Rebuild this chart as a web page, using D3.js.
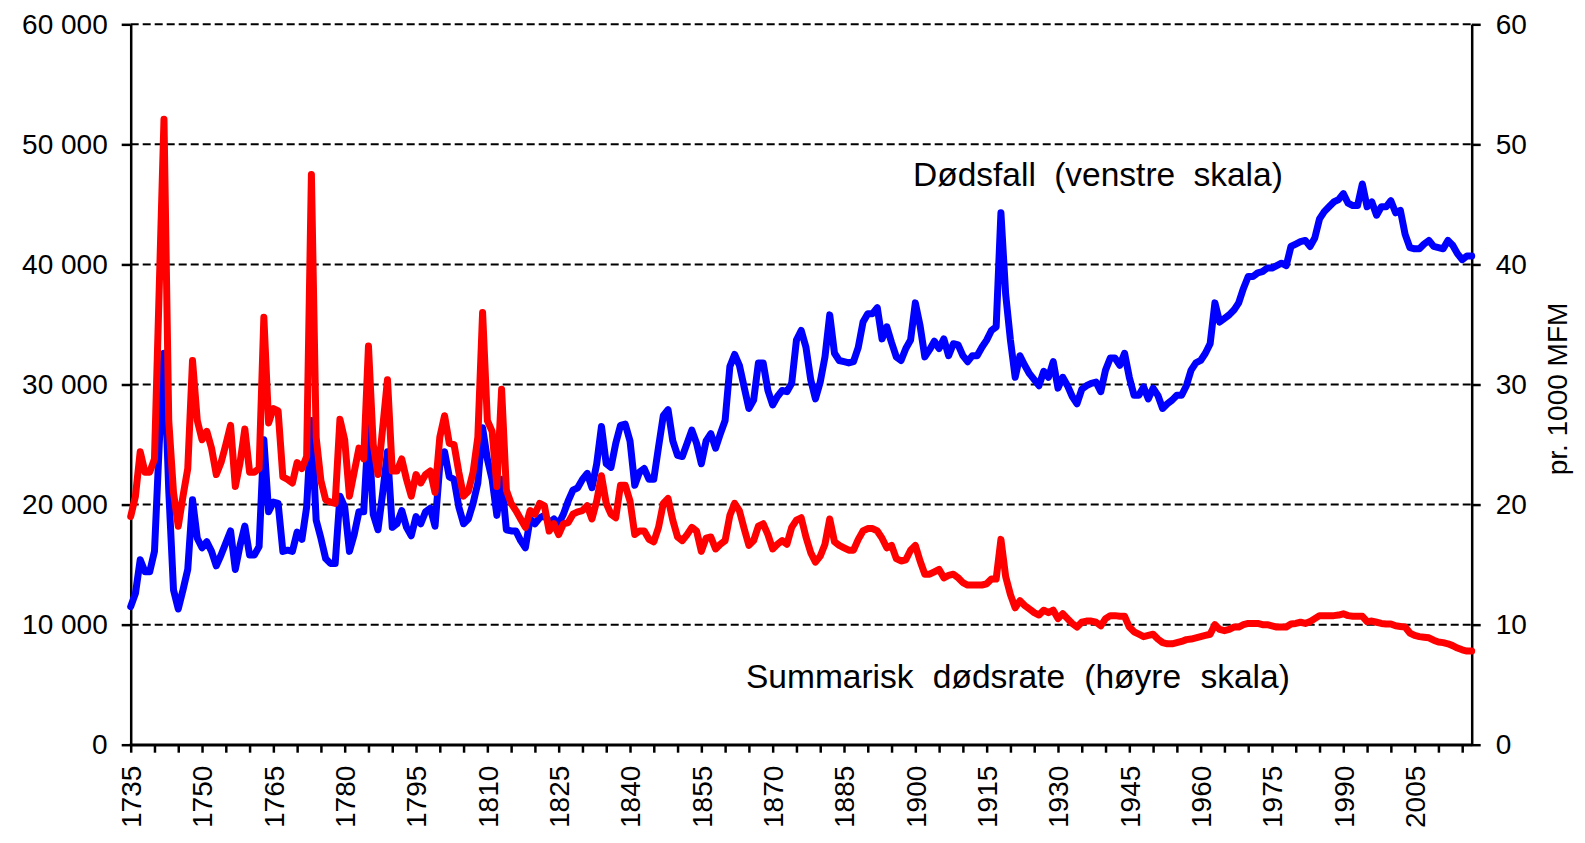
<!DOCTYPE html>
<html>
<head>
<meta charset="utf-8">
<script src="https://cdn.jsdelivr.net/npm/d3@7"></script>
<style>
    html, body { margin: 0; padding: 0; background: #fff; }
    svg { display: block; font-family: "Liberation Sans", Arial, sans-serif; }
</style>
</head>
<body>
<svg id="chart" width="1585" height="843"></svg>
<script>
const FIRST_YEAR = 1735;
const LAST_YEAR = 2017;

// Dødsfall (venstre skala), one value per year from 1735
const deaths = [
    11500, 12600, 15400, 14400, 14400, 16100, 25000, 32600, 21200, 12900,
    11300, 12900, 14600, 20400, 17200, 16400, 16900, 16100, 14900, 15800,
    16800, 17800, 14600, 16600, 18200, 15800, 15800, 16500, 25400, 19400,
    20200, 20100, 16100, 16200, 16100, 17700, 17100, 19800, 27000, 18700,
    17200, 15500, 15100, 15100, 20700, 19800, 16100, 17500, 19400, 19400,
    26500, 19200, 17900, 21000, 24400, 18100, 18400, 19500, 18100, 17400,
    19000, 18400, 19400, 19700, 18200, 23300, 24400, 22300, 22100, 19800,
    18400, 18800, 20100, 21800, 26400, 23800, 22100, 19100, 22100, 17900,
    17800, 17800, 17000, 16400, 18800, 18400, 18900, 19100, 18500, 18800,
    18400, 19200, 20300, 21200, 21400, 22100, 22600, 21400, 23400, 26500,
    23400, 23100, 25100, 26600, 26700, 25300, 21600, 22700, 23000, 22100,
    22100, 24800, 27400, 27900, 25300, 24100, 24000, 25100, 26200, 25100,
    23400, 25300, 25900, 24700, 25900, 27000, 31500, 32500, 31600, 29800,
    28000, 28700, 31800, 31800, 29500, 28300, 29000, 29500, 29400, 30100,
    33700, 34500, 33100, 30400, 28800, 30200, 32300, 35800, 32600, 32000,
    31900, 31800, 31900, 33100, 35200, 35900, 35900, 36400, 33800, 34800,
    33500, 32300, 32000, 33000, 33700, 36800, 34900, 32300, 32900, 33600,
    33000, 33800, 32400, 33400, 33300, 32400, 31900, 32400, 32400, 33100,
    33700, 34500, 34800, 44300, 37500, 33700, 30600, 32400, 31600, 30900,
    30400, 29900, 31100, 30600, 31900, 29700, 30600, 29900, 29000, 28400,
    29600, 29900, 30100, 30200, 29400, 31200, 32200, 32200, 31600, 32600,
    30600, 29100, 29100, 29800, 28800, 29700, 29100, 28000, 28400, 28700,
    29100, 29100, 29900, 31200, 31800, 32000, 32600, 33400, 36800, 35200,
    35500, 35800, 36200, 36800, 38000, 39000, 39000, 39300, 39400, 39700,
    39700, 39900, 40100, 39900, 41500, 41700, 41900, 42000, 41500, 42200,
    43800, 44400, 44800, 45200, 45400, 45900, 45100, 44900, 44900, 46700,
    44800, 45200, 44100, 44800, 44800, 45300, 44300, 44500, 42500, 41400,
    41300, 41300, 41700, 42000, 41500, 41400, 41300, 42000, 41600, 40900,
    40400, 40700, 40700
];

// Summarisk dødsrate (høyre skala), pr. 1000 middelfolkemengde
const deathRate = [
    19.0, 20.7, 24.4, 22.7, 22.7, 23.8, 38.0, 52.1, 27.0, 21.0,
    18.2, 20.7, 23.0, 32.0, 27.0, 25.4, 26.1, 24.7, 22.5, 23.5,
    25.0, 26.6, 21.5, 23.5, 26.3, 22.7, 22.7, 23.0, 35.6, 26.8,
    28.0, 27.8, 22.3, 22.1, 21.8, 23.5, 23.0, 24.0, 47.5, 25.6,
    22.0, 20.4, 20.2, 20.1, 27.1, 25.4, 20.7, 22.7, 24.7, 23.8,
    33.2, 25.0, 22.5, 26.4, 30.4, 22.8, 22.8, 23.8, 22.1, 20.7,
    22.5, 21.8, 22.5, 22.8, 21.0, 25.6, 27.4, 25.1, 25.0, 22.7,
    20.7, 21.1, 22.7, 25.6, 36.0, 27.0, 26.1, 21.5, 29.6, 21.2,
    20.1, 19.5, 18.8, 18.1, 19.5, 19.2, 20.1, 19.9, 17.8, 18.4,
    17.5, 18.4, 18.5, 19.2, 19.4, 19.5, 19.9, 18.8, 20.3, 22.4,
    20.1, 19.2, 18.9, 21.6, 21.6, 20.3, 17.5, 17.8, 17.8, 17.1,
    16.9, 18.1, 20.1, 20.5, 18.7, 17.3, 17.0, 17.5, 18.1, 17.8,
    16.1, 17.2, 17.3, 16.3, 16.7, 17.0, 19.1, 20.1, 19.5, 18.0,
    16.6, 17.0, 18.2, 18.4, 17.5, 16.3, 16.7, 17.0, 16.7, 18.1,
    18.7, 18.9, 17.3, 16.0, 15.2, 15.7, 16.7, 18.8, 16.9, 16.6,
    16.4, 16.2, 16.2, 17.1, 17.8, 18.0, 18.0, 17.8, 17.2, 16.4,
    16.6, 15.5, 15.3, 15.4, 16.2, 16.6, 15.3, 14.2, 14.2, 14.4,
    14.6, 13.9, 14.1, 14.2, 13.9, 13.5, 13.3, 13.3, 13.3, 13.3,
    13.4, 13.8, 13.8, 17.1, 14.0, 12.5, 11.4, 12.0, 11.6, 11.3,
    11.0, 10.8, 11.2, 11.0, 11.2, 10.5, 10.9, 10.5, 10.1, 9.8,
    10.2, 10.3, 10.3, 10.2, 9.9, 10.5, 10.75, 10.75, 10.7, 10.7,
    9.8, 9.4, 9.2, 9.0, 9.1, 9.2, 8.8, 8.5, 8.4, 8.4,
    8.5, 8.6, 8.75, 8.8, 8.9, 9.0, 9.1, 9.2, 10.0, 9.6,
    9.5, 9.6, 9.8, 9.8, 10.0, 10.1, 10.1, 10.1, 10.0, 10.0,
    9.9, 9.8, 9.8, 9.8, 10.05, 10.1, 10.2, 10.1, 10.25, 10.5,
    10.75, 10.75, 10.75, 10.75, 10.8, 10.9, 10.75, 10.7, 10.7, 10.7,
    10.25, 10.3, 10.2, 10.1, 10.05, 10.05, 9.9, 9.85, 9.8, 9.3,
    9.1, 9.0, 8.95, 8.9, 8.7, 8.55, 8.5, 8.4, 8.25, 8.05,
    7.9, 7.8, 7.8
];

const leftTicks = [0, 10000, 20000, 30000, 40000, 50000, 60000];
const rightTicks = [0, 10, 20, 30, 40, 50, 60];
const labelYears = [1735, 1750, 1765, 1780, 1795, 1810, 1825, 1840, 1855, 1870, 1885, 1900, 1915, 1930, 1945, 1960, 1975, 1990, 2005];
const tickYears = d3.range(1735, 2016, 5);

const PLOT = { left: 130.7, right: 1471.7, top: 24.3, bottom: 744.7 };
const FONT_SIZE = 28;

const svg = d3.select('#chart');

const x = d3.scaleLinear().domain([FIRST_YEAR, LAST_YEAR]).range([PLOT.left, PLOT.right]);
const yLeft = d3.scaleLinear().domain([0, 60000]).range([PLOT.bottom, PLOT.top]);
const yRight = d3.scaleLinear().domain([0, 60]).range([PLOT.bottom, PLOT.top]);

// dashed horizontal grid
svg.append('g')
    .selectAll('line')
    .data(leftTicks.filter((d) => d > 0))
    .join('line')
    .attr('x1', PLOT.left)
    .attr('x2', PLOT.right)
    .attr('y1', (d) => yLeft(d))
    .attr('y2', (d) => yLeft(d))
    .attr('stroke', '#000')
    .attr('stroke-width', 2)
    .attr('stroke-dasharray', '8,4');

const spaced = (d) => d3.format(',')(d).replace(/,/g, ' ');

const leftAxis = svg.append('g')
    .attr('transform', `translate(${PLOT.left},0)`)
    .call(d3.axisLeft(yLeft).tickValues(leftTicks).tickFormat(spaced).tickSize(9).tickSizeOuter(0).tickPadding(14));

const rightAxis = svg.append('g')
    .attr('transform', `translate(${PLOT.right},0)`)
    .call(d3.axisRight(yRight).tickValues(rightTicks).tickSize(9).tickSizeOuter(0).tickPadding(15));

const bottomAxis = svg.append('g')
    .attr('transform', `translate(0,${PLOT.bottom})`)
    .call(d3.axisBottom(x)
        .tickValues(tickYears)
        .tickFormat((d) => (labelYears.includes(d) ? d : ''))
        .tickSize(8)
        .tickSizeOuter(0));

bottomAxis.selectAll('text')
    .attr('transform', 'rotate(-90)')
    .attr('text-anchor', 'end')
    .attr('x', -21)
    .attr('y', 0)
    .attr('dy', '0.35em');

[leftAxis, rightAxis, bottomAxis].forEach((g) => {
    g.selectAll('.domain, .tick line').attr('stroke', '#000').attr('stroke-width', 2.5);
    g.selectAll('text').attr('fill', '#000').attr('font-size', FONT_SIZE).attr('font-family', '"Liberation Sans", Arial, sans-serif');
});

// the bottom axis stretches across the full plot width
svg.append('line')
    .attr('x1', PLOT.left - 1)
    .attr('x2', PLOT.right + 1)
    .attr('y1', PLOT.bottom)
    .attr('y2', PLOT.bottom)
    .attr('stroke', '#000')
    .attr('stroke-width', 2.5);

const years = deaths.map((_, i) => FIRST_YEAR + i);

const deathLine = d3.line()
    .x((d, i) => x(years[i]))
    .y((d) => yLeft(d));

const rateLine = d3.line()
    .x((d, i) => x(years[i]))
    .y((d) => yRight(d));

svg.append('path')
    .datum(deaths)
    .attr('d', deathLine)
    .attr('fill', 'none')
    .attr('stroke', '#0000ff')
    .attr('stroke-width', 7)
    .attr('stroke-linejoin', 'round')
    .attr('stroke-linecap', 'round');

svg.append('path')
    .datum(deathRate)
    .attr('d', rateLine)
    .attr('fill', 'none')
    .attr('stroke', '#ff0000')
    .attr('stroke-width', 7)
    .attr('stroke-linejoin', 'round')
    .attr('stroke-linecap', 'round');

// series annotations
svg.append('text')
    .attr('x', 913)
    .attr('y', 186)
    .attr('font-size', 33.5)
    .attr('word-spacing', 9)
    .text('Dødsfall (venstre skala)');

svg.append('text')
    .attr('x', 746)
    .attr('y', 688)
    .attr('font-size', 33.5)
    .attr('word-spacing', 10)
    .text('Summarisk dødsrate (høyre skala)');

// right axis title
svg.append('text')
    .attr('transform', 'translate(1557,389) rotate(-90)')
    .attr('text-anchor', 'middle')
    .attr('dy', '0.35em')
    .attr('font-size', FONT_SIZE)
    .text('pr. 1000 MFM');
</script>
</body>
</html>
